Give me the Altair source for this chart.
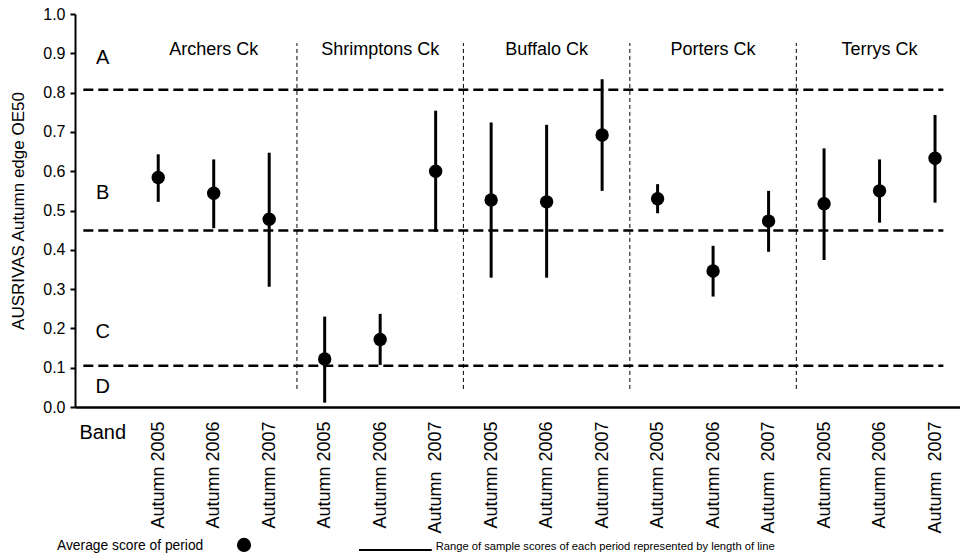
import json
import altair as alt
import pandas as pd

# ---- data ----
creeks = ["Archers Ck", "Shrimptons Ck", "Buffalo Ck", "Porters Ck", "Terrys Ck"]
period_labels = [
    "Autumn 2005", "Autumn 2006", "Autumn 2007",
    "Autumn 2005", "Autumn 2006", "Autumn\u00a0 2007",
    "Autumn 2005", "Autumn 2006", "Autumn 2007",
    "Autumn 2005", "Autumn 2006", "Autumn\u00a0 2007",
    "Autumn 2005", "Autumn 2006", "Autumn\u00a0 2007",
]
means = [0.584, 0.544, 0.478, 0.122, 0.172, 0.600, 0.527, 0.522, 0.692,
         0.530, 0.346, 0.473, 0.517, 0.550, 0.633]
lows = [0.522, 0.455, 0.306, 0.011, 0.107, 0.446, 0.329, 0.329, 0.550,
        0.493, 0.281, 0.395, 0.374, 0.469, 0.520]
highs = [0.643, 0.630, 0.647, 0.230, 0.237, 0.754, 0.724, 0.718, 0.834,
         0.567, 0.410, 0.550, 0.658, 0.630, 0.743]
band_letters = ["A", "B", "C", "D"]
band_letter_y = [0.888, 0.545, 0.19, 0.052]
band_limits = [0.807, 0.449, 0.105]
group_dividers = [3.5, 6.5, 9.5, 12.5]
y_ticks = [0.0, 0.1, 0.2, 0.3, 0.4, 0.5, 0.6, 0.7, 0.8, 0.9, 1.0]
legend_texts = ["Average score of period",
                "Range of sample scores of each period represented by length of line"]

FONT = "Liberation Sans"

pts = pd.DataFrame({
    "idx": list(range(1, 16)),
    "mean": means,
    "lo": lows,
    "hi": highs,
})
groups = pd.DataFrame({"idx": [2, 5, 8, 11, 14], "y": [0.908] * 5, "label": creeks})
letters = pd.DataFrame({"idx": [0] * 4, "y": band_letter_y, "label": band_letters})
hl = pd.DataFrame({"x1": [-0.35] * 3, "x2": [15.15] * 3, "y": band_limits})
vl = pd.DataFrame({"x": group_dividers, "y1": [0.046] * 4, "y2": [0.926] * 4})
bandlab = pd.DataFrame({"idx": [0], "y": [-0.066], "label": ["Band"]})
# legend annotation placed below the axis labels (in axis units)
leg_t1 = pd.DataFrame({"x": [-0.824], "y": [-0.3537], "t": [legend_texts[0]]})
leg_t2 = pd.DataFrame({"x": [6.0], "y": [-0.356], "t": [legend_texts[1]]})
leg_pt = pd.DataFrame({"x": [2.546], "y": [-0.351]})
leg_ln = pd.DataFrame({"x1": [4.618], "x2": [5.93], "y": [-0.364]})

label_list = [""] + period_labels
label_expr = json.dumps(label_list, ensure_ascii=False) + "[datum.value]"

xscale = alt.Scale(domain=[-0.5, 15.45], nice=False, zero=False)
yscale = alt.Scale(domain=[0, 1], nice=False)
xaxis = alt.Axis(values=list(range(1, 16)), labelExpr=label_expr, ticks=False,
                 labelAngle=-90, labelPadding=14, labelFontSize=18, labelColor="black",
                 labelFont=FONT, domainColor="black", domainWidth=2.5, grid=False,
                 title=None, labelOverlap=False)
yaxis = alt.Axis(values=y_ticks, format=".1f", tickSize=5, tickWidth=2, tickColor="black",
                 domainColor="black", domainWidth=2, labelFontSize=16, labelColor="black",
                 labelFont=FONT, labelPadding=5, grid=False,
                 title="AUSRIVAS Autumn edge OE50", titleFontSize=17,
                 titleFontWeight="normal", titleFont=FONT, titleColor="black",
                 titlePadding=15)


def X(field):
    return alt.X(field, type="quantitative", scale=xscale, axis=xaxis)


def Y(field):
    return alt.Y(field, type="quantitative", scale=yscale, axis=yaxis)


hlines = alt.Chart(hl).mark_rule(color="black", strokeWidth=2.5, strokeDash=[10, 5]).encode(
    x=X("x1"), x2="x2", y=Y("y"))
vlines = alt.Chart(vl).mark_rule(color="black", strokeWidth=1, strokeDash=[4, 3]).encode(
    x=X("x"), y=Y("y1"), y2="y2")
bars = alt.Chart(pts).mark_rule(color="black", strokeWidth=3).encode(
    x=X("idx"), y=Y("lo"), y2="hi")
dots = alt.Chart(pts).mark_circle(color="black", opacity=1, size=180).encode(
    x=X("idx"), y=Y("mean"))
gtext = alt.Chart(groups).mark_text(font=FONT, fontSize=18, color="black").encode(
    x=X("idx"), y=Y("y"), text="label")
ltext = alt.Chart(letters).mark_text(font=FONT, fontSize=20, color="black").encode(
    x=X("idx"), y=Y("y"), text="label")
btext = alt.Chart(bandlab).mark_text(font=FONT, fontSize=20, color="black").encode(
    x=X("idx"), y=Y("y"), text="label")
leg1 = alt.Chart(leg_t1).mark_text(font=FONT, fontSize=13.8, color="black",
                                   align="left", baseline="middle").encode(
    x=X("x"), y=Y("y"), text="t")
leg2 = alt.Chart(leg_t2).mark_text(font=FONT, fontSize=11.2, color="black",
                                   align="left", baseline="middle").encode(
    x=X("x"), y=Y("y"), text="t")
leg_dot = alt.Chart(leg_pt).mark_circle(color="black", opacity=1, size=200).encode(
    x=X("x"), y=Y("y"))
leg_line = alt.Chart(leg_ln).mark_rule(color="black", strokeWidth=2).encode(
    x=X("x1"), x2="x2", y=Y("y"))

chart = alt.layer(hlines, vlines, bars, dots, gtext, ltext, btext,
                  leg1, leg_dot, leg_line, leg2).properties(
    width=885, height=393,
    padding={"left": 75, "top": 14, "right": 0, "bottom": 151},
    autosize=alt.AutoSizeParams(type="none"),
).configure(font=FONT).configure_view(strokeOpacity=0, strokeWidth=0)

chart.save("out.html", embed_options={"renderer": "svg", "actions": False})
